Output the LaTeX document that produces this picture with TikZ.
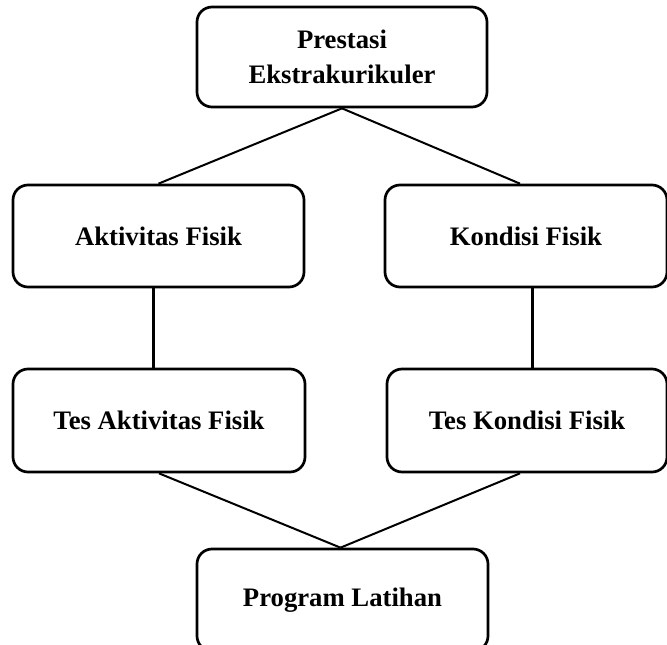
\documentclass[tikz,border=0pt]{standalone}
\usepackage{fontspec}
\setmainfont{Liberation Serif}
\begin{document}
\begin{tikzpicture}[x=1pt,y=-1pt,
  box/.style={draw=black, line width=2.7pt, rounded corners=15pt, fill=white,
    inner sep=0pt, align=center, font=\fontsize{26.7}{35}\selectfont\bfseries},
  diag/.style={line width=2pt},
  vert/.style={line width=3pt}]
\useasboundingbox (0,0) rectangle (667,645);
\clip (0,0) rectangle (667,645);
\node[box, minimum width=290pt, minimum height=100pt] (top) at (342,57) {Prestasi\\Ekstrakurikuler};
\node[box, minimum width=291pt, minimum height=102pt] (akt) at (158.5,236) {Aktivitas Fisik};
\node[box, minimum width=282pt, minimum height=102pt] (kon) at (526,236) {Kondisi Fisik};
\node[box, minimum width=292pt, minimum height=103pt] (tesakt) at (159,420.5) {Tes Aktivitas Fisik};
\node[box, minimum width=280pt, minimum height=103pt] (teskon) at (527,420.5) {Tes Kondisi Fisik};
\node[box, minimum width=291pt, minimum height=102pt] (prog) at (342.5,600) {Program Latihan};
\draw[diag] (top.south) -- (akt.north);
\draw[diag] (top.south) -- ([xshift=-6pt]kon.north);
\draw[vert] ([xshift=-5.5pt]akt.south) -- ([xshift=-5.5pt]akt.south |- tesakt.north);
\draw[vert] ([xshift=6pt]kon.south) -- ([xshift=6pt]kon.south |- teskon.north);
\draw[diag] (tesakt.south) -- ([xshift=-2pt]prog.north);
\draw[diag] ([xshift=-7pt]teskon.south) -- ([xshift=-2pt]prog.north);
\end{tikzpicture}
\end{document}
